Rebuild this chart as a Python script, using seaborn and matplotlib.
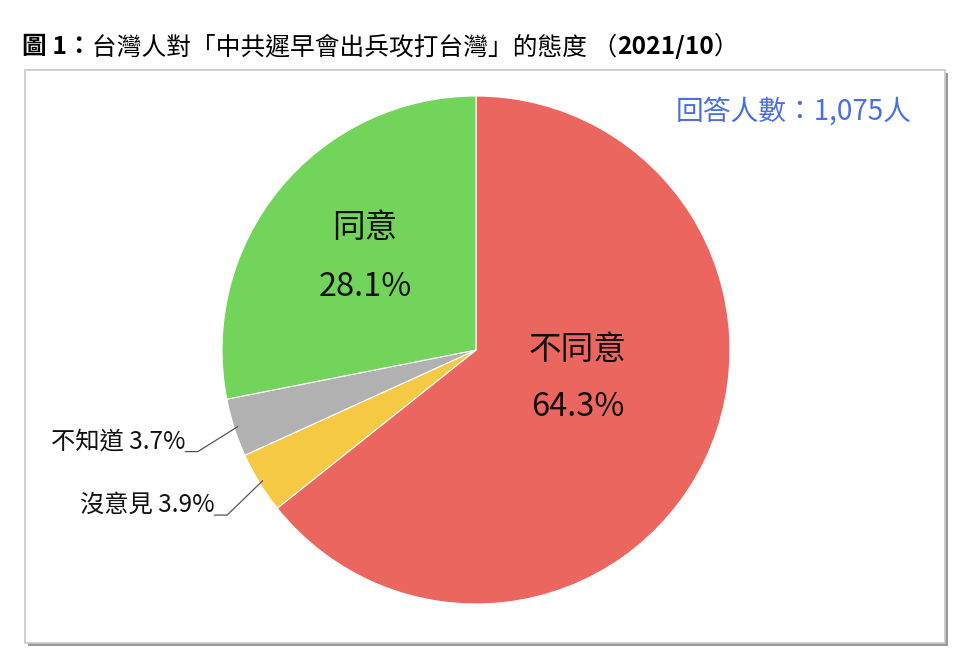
import numpy as np
import matplotlib
matplotlib.use("Agg")
import matplotlib.pyplot as plt
import seaborn as sns
from matplotlib.patches import Rectangle

sns.set_theme(style="white")
plt.rcParams['font.family'] = ['Noto Sans CJK TC', 'DejaVu Sans']

# ---- data ----
categories = ["不同意", "沒意見", "不知道", "同意"]
values = [64.3, 3.9, 3.7, 28.1]
colors = ["#EC6660", "#F6C945", "#B1B1B1", "#72D45A"]
title_bold_1 = "圖 1："
title_main = "台灣人對「中共遲早會出兵攻打台灣」的態度 （"
title_bold_2 = "2021/10"
title_end = "）"
respondents = "回答人數：1,075人"

W, H = 968, 672
fig = plt.figure(figsize=(W / 100, H / 100), dpi=100)
fig.patch.set_facecolor("white")

def px(x, y):
    return x / W, 1 - y / H

# frame box with shadow
bx0, by0, bx1, by1 = 25, 70, 945, 643
fig.patches.append(Rectangle(px(bx0 + 3, by1 + 3), (bx1 - bx0) / W, (by1 - by0) / H,
                             transform=fig.transFigure, facecolor="#9a9a9a",
                             edgecolor="none", zorder=-2))
fig.patches.append(Rectangle(px(bx0, by1), (bx1 - bx0) / W, (by1 - by0) / H,
                             transform=fig.transFigure, facecolor="white",
                             edgecolor="#c8c8c8", linewidth=1.2, zorder=-1))

# pie axes
cx, cy, r = 476, 350, 254
ax = fig.add_axes([(cx - r) / W, (H - cy - r) / H, 2 * r / W, 2 * r / H])
ax.set_zorder(5)
ax.patch.set_alpha(0)

wedges, _ = ax.pie(values, colors=colors, startangle=90, counterclock=False,
                   radius=1.0, wedgeprops=dict(linewidth=0.8, edgecolor="white"))
ax.set_xlim(-1, 1)
ax.set_ylim(-1, 1)
ax.set_aspect("equal")
ax.axis("off")

# inside labels
inside = {0: (0.40, 0.0, -0.225), 3: (-0.437, 0.48, 0.248)}
for i, (x, y1, y2) in inside.items():
    ax.text(x, y1, categories[i], ha="center", va="center", fontsize=23.5, color="#111111")
    ax.text(x, y2, f"{values[i]:.1f}%", ha="center", va="center", fontsize=23.5, color="#111111")

# outside labels with leader lines
outside = {2: (-1.145, -0.40), 1: (-1.03, -0.65)}
for i, (tx, ty) in outside.items():
    w = wedges[i]
    mid = np.deg2rad((w.theta1 + w.theta2) / 2)
    axx, ayy = 0.985 * np.cos(mid), 0.985 * np.sin(mid)
    ax.text(tx, ty - 0.01, f"{categories[i]} {values[i]:.1f}%", ha="right", va="bottom",
            fontsize=17.5, color="#111111")
    ax.plot([tx, tx + 0.05, axx], [ty, ty, ayy], color="#555555", lw=0.9, clip_on=False)

# respondents
fig.text(912 / W, 1 - 112 / H, respondents, ha="right", va="center",
         fontsize=20, color="#4A6FE3", zorder=6)

# title with mixed weights
ty_t = 1 - 54 / H
fs = 17.8
t1 = fig.text(22 / W, ty_t, title_bold_1, ha="left", va="baseline",
              fontsize=fs, fontweight="bold", color="black")
fig.canvas.draw()
r_ = fig.canvas.get_renderer()
bb = t1.get_window_extent(r_)
t2 = fig.text(bb.x1 / W, ty_t, title_main, fontsize=fs, color="black", va="baseline")
fig.canvas.draw()
bb2 = t2.get_window_extent(r_)
t3 = fig.text(bb2.x1 / W, ty_t, title_bold_2, fontsize=fs, fontweight="bold",
              color="black", va="baseline")
fig.canvas.draw()
bb3 = t3.get_window_extent(r_)
fig.text(bb3.x1 / W, ty_t, title_end, fontsize=fs, color="black", va="baseline")

fig.savefig("out.png", dpi=100, facecolor="white")
